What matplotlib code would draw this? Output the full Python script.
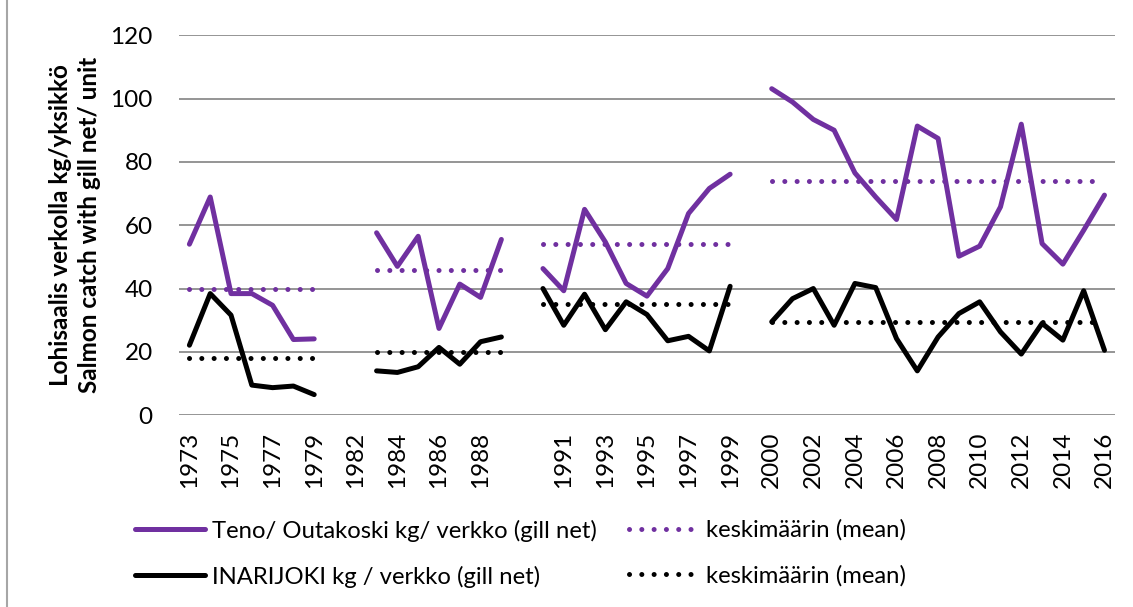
import numpy as np
import matplotlib
matplotlib.use("Agg")
import matplotlib.pyplot as plt
from matplotlib.lines import Line2D

plt.rcParams['font.family'] = ['Lato', 'DejaVu Sans']

# category axis: blank slots separate the four periods
years = ['1973', '1974', '1975', '1976', '1977', '1978', '1979', '',
         '1982', '1983', '1984', '1985', '1986', '1987', '1988', '1989', '',
         '1990', '1991', '1992', '1993', '1994', '1995', '1996', '1997', '1998', '1999', '',
         '2000', '2001', '2002', '2003', '2004', '2005', '2006', '2007', '2008',
         '2009', '2010', '2011', '2012', '2013', '2014', '2015', '2016']

# periods as (first index, last index) on the category axis
periods = [(0, 6), (9, 15), (17, 26), (28, 44)]

teno = [
    [54.0, 68.9, 38.4, 38.4, 34.7, 23.9, 24.1],
    [57.6, 47.0, 56.5, 27.4, 41.4, 37.2, 55.5],
    [46.3, 39.3, 65.0, 54.7, 41.6, 37.6, 46.3, 63.7, 71.6, 76.1],
    [103.1, 98.9, 93.4, 90.0, 76.5, 68.9, 61.8, 91.3, 87.4, 50.2, 53.4, 65.8,
     91.9, 54.2, 47.7, 58.4, 69.5],
]
teno_mean = [40.0, 46.0, 54.0, 74.0]

inari = [
    [22.1, 38.4, 31.6, 9.5, 8.7, 9.2, 6.5],
    [14.0, 13.5, 15.3, 21.4, 16.1, 23.2, 24.7],
    [40.0, 28.4, 38.2, 27.0, 35.8, 31.8, 23.5, 24.9, 20.3, 40.7],
    [29.5, 36.8, 40.0, 28.4, 41.6, 40.3, 24.2, 14.0, 24.7, 32.1, 35.8, 26.3,
     19.3, 29.0, 23.7, 39.3, 20.5],
]
inari_mean = [18.0, 20.0, 35.0, 29.5]

purple = '#7030A0'
dots = (0, (0.01, 2.45))
lw_line = 3.6
lw_dot = 3.6

fig = plt.figure(figsize=(11.33, 6.07), dpi=100)
ax = fig.add_axes([0.158, 0.316, 0.826, 0.626])

for k, (a, b) in enumerate(periods):
    x = np.arange(a, b + 1)
    ax.plot(x, teno[k], color=purple, lw=lw_line, solid_capstyle='round', solid_joinstyle='round', zorder=3)
    ax.plot(x, inari[k], color='black', lw=lw_line, solid_capstyle='round', solid_joinstyle='round', zorder=3)
    ax.plot(x, [teno_mean[k]] * len(x), color=purple, lw=lw_dot, linestyle=dots,
            dash_capstyle='round', zorder=2)
    ax.plot(x, [inari_mean[k]] * len(x), color='black', lw=lw_dot, linestyle=dots,
            dash_capstyle='round', zorder=2)

ax.set_xlim(-0.5, len(years) - 0.5)
ax.set_ylim(0, 120)
ax.set_yticks(np.arange(0, 121, 20))
ax.set_xticks(np.arange(0, len(years), 2))
ax.set_xticklabels(years[::2], rotation=90)
ax.tick_params(axis='both', length=0, labelsize=17.5, colors='black')
ax.tick_params(axis='y', pad=19)
ax.tick_params(axis='x', pad=12)
ax.grid(axis='y', color='#8c8c8c', lw=1.3)
ax.set_axisbelow(True)
for s in ax.spines.values():
    s.set_visible(False)

ax.set_ylabel('Lohisaalis verkolla kg/yksikkö\nSalmon catch with gill net/ unit',
              fontsize=17.5, fontweight='bold', linespacing=1.35)
ax.yaxis.set_label_coords(-0.083, 0.5)

h_solid = [Line2D([], [], color=purple, lw=lw_line, solid_capstyle='round'),
           Line2D([], [], color='black', lw=lw_line, solid_capstyle='round')]
h_dot = [Line2D([], [], color=purple, lw=lw_dot, linestyle=dots, dash_capstyle='round'),
         Line2D([], [], color='black', lw=lw_dot, linestyle=dots, dash_capstyle='round')]

leg_kw = dict(frameon=False, fontsize=17.2, handlelength=2.9, handletextpad=0.3,
              labelspacing=1.0, loc='upper left', borderaxespad=0)
leg1 = fig.legend(h_solid, ['Teno/ Outakoski kg/ verkko (gill net)',
                            'INARIJOKI kg / verkko (gill net)'],
                  bbox_to_anchor=(0.111, 0.16), **leg_kw)
leg2 = fig.legend(h_dot, ['keskimäärin (mean)', 'keskimäärin (mean)'],
                  bbox_to_anchor=(0.547, 0.16), **leg_kw)

# chart border on the left edge
fig.add_artist(Line2D([0.006, 0.006], [0, 1], color='#a6a6a6', lw=1.5))

fig.savefig('out.png', dpi=100)
